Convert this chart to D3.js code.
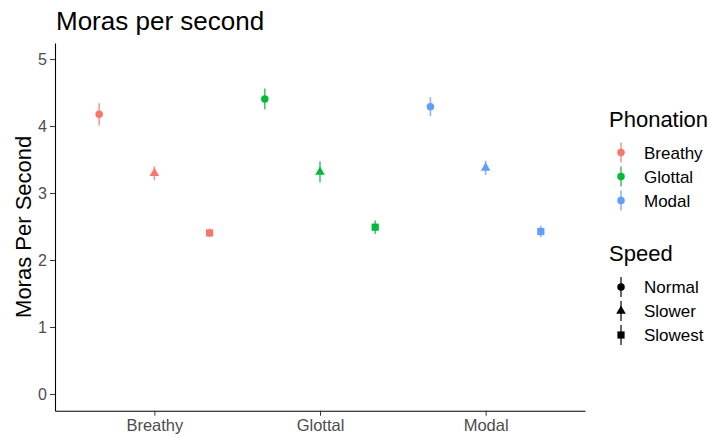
<!DOCTYPE html>
<html>
<head>
<meta charset="utf-8">
<script src="https://cdn.jsdelivr.net/npm/d3@7"></script>
<style>
  body { margin: 0; background: #fff; }
  svg { font-family: "Liberation Sans", Arial, sans-serif; }
</style>
</head>
<body>
<svg id="chart" width="710" height="438"></svg>
<script>
// values
let phonations = ["Breathy", "Glottal", "Modal"];
let speeds = ["Normal", "Slower", "Slowest"];
let meanNormal = [4.175, 4.405, 4.29];
let meanSlower = [3.295, 3.315, 3.375];
let meanSlowest = [2.405, 2.49, 2.425];
let seNormal = [0.165, 0.155, 0.14];
let seSlower = [0.105, 0.155, 0.105];
let seSlowest = [0.065, 0.10, 0.085];
let yTicks = [0, 1, 2, 3, 4, 5];
let colors = ["#F8766D", "#00BA38", "#619CFF"];

let means = [meanNormal, meanSlower, meanSlowest];
let ses = [seNormal, seSlower, seSlowest];

let rows = [];
speeds.forEach((s, si) => {
  phonations.forEach((p, pi) => {
    rows.push({phon: p, speed: s, si: si, mean: means[si][pi], se: ses[si][pi]});
  });
});

const svg = d3.select("#chart");
const panelLeft = 55, panelRight = 585, panelTop = 43, panelBottom = 410.7;

const x = d3.scalePoint().domain(phonations).range([panelLeft, panelRight]).padding(0.6);
const dodge = d3.scalePoint().domain(speeds).range([-x.step() / 3, x.step() / 3]);
const y = d3.scaleLinear().domain([-0.25, 5.24]).range([panelBottom, panelTop]);
const color = d3.scaleOrdinal().domain(phonations).range(colors);
const shape = d3.scaleOrdinal().domain(speeds)
  .range([d3.symbolCircle, d3.symbolTriangle, d3.symbolSquare]);
const shapeSize = d3.scaleOrdinal().domain(speeds).range([44, 40, 52]);

// title
svg.append("text")
  .attr("x", 56).attr("y", 30)
  .attr("font-size", 26).attr("fill", "#000")
  .text("Moras per second");

// y axis
const yAxis = svg.append("g")
  .attr("transform", `translate(${panelLeft},0)`)
  .call(d3.axisLeft(y).tickValues(yTicks).tickFormat(d3.format("d"))
    .tickSize(5).tickSizeOuter(0).tickPadding(3));
yAxis.select(".domain").attr("stroke", "#000").attr("stroke-width", 1.1);
yAxis.selectAll(".tick line").attr("stroke", "#333");
yAxis.selectAll(".tick text").attr("font-size", 16).attr("fill", "#4D4D4D")
  .attr("font-family", "Liberation Sans, Arial, sans-serif");

// x axis
const xAxis = svg.append("g")
  .attr("transform", `translate(0,${panelBottom})`)
  .call(d3.axisBottom(x).tickSize(5).tickSizeOuter(0).tickPadding(4));
xAxis.select(".domain").attr("stroke", "#000").attr("stroke-width", 1.1);
xAxis.selectAll(".tick line").attr("stroke", "#333");
xAxis.selectAll(".tick text").attr("font-size", 16.5).attr("fill", "#4D4D4D")
  .attr("font-family", "Liberation Sans, Arial, sans-serif");

// y label
svg.append("text")
  .attr("transform", `translate(31,${(panelTop + panelBottom) / 2}) rotate(-90)`)
  .attr("text-anchor", "middle")
  .attr("font-size", 22).attr("fill", "#000")
  .text("Moras Per Second");

// error bars
svg.append("g").selectAll("line")
  .data(rows)
  .join("line")
  .attr("x1", d => x(d.phon) + dodge(d.speed))
  .attr("x2", d => x(d.phon) + dodge(d.speed))
  .attr("y1", d => y(d.mean - d.se))
  .attr("y2", d => y(d.mean + d.se))
  .attr("stroke", d => color(d.phon))
  .attr("stroke-width", 1.6)
  .attr("stroke-opacity", 0.75);

// points
svg.append("g").selectAll("path")
  .data(rows)
  .join("path")
  .attr("transform", d => `translate(${x(d.phon) + dodge(d.speed)},${y(d.mean)})`)
  .attr("d", d => d3.symbol().type(shape(d.speed)).size(shapeSize(d.speed))())
  .attr("fill", d => color(d.phon));

// legends
function makeLegend(title, items, titleY, firstY, colorFn, shapeFn, sizeFn) {
  let g = svg.append("g");
  g.append("text").attr("x", 609).attr("y", titleY)
    .attr("font-size", 22).attr("fill", "#000").text(title);
  let item = g.selectAll("g.item")
    .data(items)
    .join("g")
    .attr("class", "item")
    .attr("transform", (d, i) => `translate(621,${firstY + i * 24})`);
  item.append("line")
    .attr("y1", -10).attr("y2", 10)
    .attr("stroke", d => colorFn(d)).attr("stroke-width", 1.6).attr("stroke-opacity", 0.75);
  item.append("path")
    .attr("d", d => d3.symbol().type(shapeFn(d)).size(sizeFn(d))())
    .attr("fill", d => colorFn(d));
  item.append("text")
    .attr("x", 23).attr("y", 6)
    .attr("font-size", 17).attr("fill", "#000")
    .text(d => d);
}

makeLegend("Phonation", phonations, 127, 152.5, d => color(d), d => d3.symbolCircle, d => 44);
makeLegend("Speed", speeds, 261, 287, d => "#000", shape, d => shapeSize(d));
</script>
</body>
</html>
